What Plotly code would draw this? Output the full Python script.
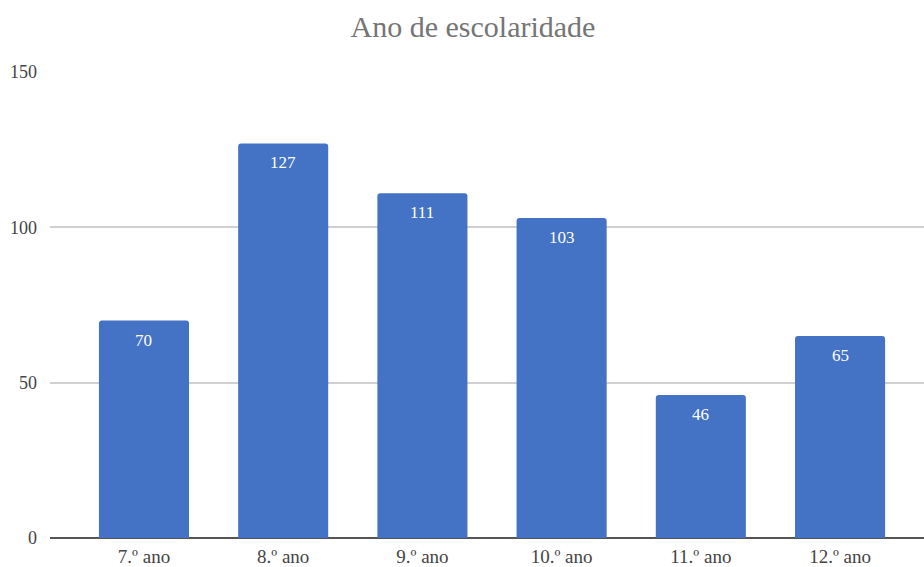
import plotly.graph_objects as go

# School year categories and pupil counts
categories = ["7.º ano", "8.º ano", "9.º ano", "10.º ano", "11.º ano", "12.º ano"]
counts = [70, 127, 111, 103, 46, 65]
y_ticks = [0, 50, 100, 150]

serif = "Liberation Serif, Times New Roman, serif"

fig = go.Figure(
    go.Bar(
        x=categories,
        y=counts,
        marker=dict(color="#4472C4", line=dict(width=0)),
        width=0.647,
        hoverinfo="x+y",
    )
)

# Value labels sitting just inside the top of each bar
for cat, val in zip(categories, counts):
    fig.add_annotation(
        x=cat,
        y=val,
        xref="x",
        yref="y",
        text=str(val),
        showarrow=False,
        yanchor="top",
        yshift=-8,
        font=dict(family=serif, size=17, color="white"),
    )

fig.update_layout(
    width=924,
    height=567,
    margin=dict(l=50, r=0, t=72, b=29),
    paper_bgcolor="white",
    plot_bgcolor="white",
    barcornerradius=3,
    showlegend=False,
    title=dict(
        text="Ano de escolaridade",
        font=dict(family=serif, size=30, color="#757575"),
        x=473 / 924,
        xref="container",
        xanchor="center",
        y=1 - 26 / 567,
        yref="container",
        yanchor="middle",
    ),
    xaxis=dict(
        range=[-0.675, 5.603],
        showgrid=False,
        showline=False,
        zeroline=False,
        ticks="",
        tickfont=dict(family=serif, size=19, color="#444444"),
        ticklabelstandoff=5,
    ),
    yaxis=dict(
        range=[0, 150],
        tickvals=y_ticks,
        ticktext=[str(v) for v in y_ticks],
        showgrid=True,
        gridcolor="#d0d0d0",
        gridwidth=1.5,
        zeroline=True,
        zerolinecolor="#555555",
        zerolinewidth=2,
        showline=False,
        ticks="",
        tickfont=dict(family=serif, size=18, color="#444444"),
        ticklabelstandoff=12,
    ),
)

fig.write_html("out.html")
